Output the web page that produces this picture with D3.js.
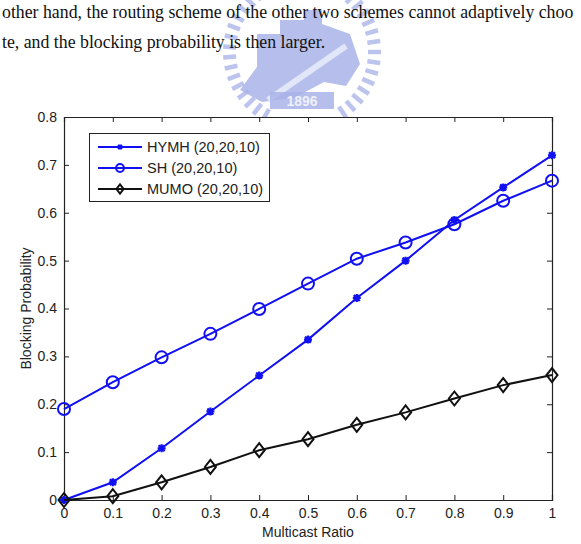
<!DOCTYPE html>
<html>
<head>
<meta charset="utf-8">
<script src="https://cdn.jsdelivr.net/npm/d3@7"></script>
<style>
  body { margin: 0; background: #fff; }
  svg { display: block; }
</style>
</head>
<body>
<div id="chart"></div>
<script>
// data
var ratios = [0, 0.1, 0.2, 0.3, 0.4, 0.5, 0.6, 0.7, 0.8, 0.9, 1];
var hymh = [0, 0.037, 0.108, 0.185, 0.260, 0.335, 0.422, 0.500, 0.585, 0.653, 0.720];
var sh   = [0.190, 0.246, 0.298, 0.347, 0.399, 0.452, 0.504, 0.538, 0.576, 0.625, 0.667];
var mumo = [0, 0.008, 0.037, 0.069, 0.104, 0.127, 0.157, 0.183, 0.212, 0.240, 0.261];
var seriesNames = ["HYMH (20,20,10)", "SH (20,20,10)", "MUMO (20,20,10)"];
var xTicks = [0, 0.1, 0.2, 0.3, 0.4, 0.5, 0.6, 0.7, 0.8, 0.9, 1];
var yTicks = [0, 0.1, 0.2, 0.3, 0.4, 0.5, 0.6, 0.7, 0.8];
var textLines = [
  "other hand, the routing scheme of the other two schemes cannot adaptively choo",
  "te, and the blocking probability is then larger."
];

var width = 581, height = 544;
var plot = {left: 64, right: 552, top: 117, bottom: 500};

var svg = d3.select("#chart").append("svg")
  .attr("width", width)
  .attr("height", height);

// faint watermark logo behind the page text
var wm = svg.append("g").attr("transform", "translate(302,52)");
var ringCol = "#bcc4ee";
d3.range(0, 360, 8).forEach(function(a) {
  if (a > 62 && a < 118) return; // gap at the bottom for the year
  var r = a * Math.PI / 180;
  wm.append("line")
    .attr("x1", Math.cos(r) * 66).attr("y1", Math.sin(r) * 66)
    .attr("x2", Math.cos(r) * 79).attr("y2", Math.sin(r) * 79)
    .attr("stroke", ringCol).attr("stroke-width", 4.5);
});
wm.append("path")
  .attr("d", "M-62,38 L-45,15 L-45,-18 L-22,-18 L-22,-32 L2,-32 L2,-42 L20,-42 L20,-28 L48,-18 L58,12 L44,34 L22,30 L-8,46 L-40,50 Z")
  .attr("fill", "#a9b3e8").attr("opacity", 0.85);
wm.append("path")
  .attr("d", "M-34,48 L44,-6")
  .attr("stroke", "#e2e6f9").attr("stroke-width", 6);
wm.append("rect")
  .attr("x", -32).attr("y", 40).attr("width", 64).attr("height", 17)
  .attr("fill", "#a9b3e8").attr("opacity", 0.85);
wm.append("text")
  .attr("x", 0).attr("y", 54)
  .attr("text-anchor", "middle")
  .style("font-family", "Liberation Sans, Arial, sans-serif")
  .style("font-size", "14px")
  .style("font-weight", "bold")
  .attr("fill", "#eef0fb")
  .text("1896");

// page text above the figure
svg.selectAll("text.body")
  .data(textLines)
  .enter()
  .append("text")
  .attr("class", "body")
  .attr("x", 2)
  .attr("y", function(d, i) { return 18 + i * 30; })
  .style("font-family", "Liberation Serif, Times New Roman, serif")
  .style("font-size", "17.8px")
  .attr("fill", "#111")
  .text(function(d) { return d; });

var x = d3.scaleLinear().domain([0, 1]).range([plot.left, plot.right]);
var y = d3.scaleLinear().domain([0, 0.8]).range([plot.bottom, plot.top]);

var fontFam = "Liberation Sans, Arial, Helvetica, sans-serif";

// white axes background
svg.append("rect")
  .attr("x", plot.left).attr("y", plot.top)
  .attr("width", plot.right - plot.left).attr("height", plot.bottom - plot.top)
  .attr("fill", "#fff");

// axes with inward ticks on all four sides
var axes = [
  {g: d3.axisBottom(x).tickValues(xTicks).tickSize(-5).tickPadding(8).tickFormat(d3.format("")), t: "translate(0," + plot.bottom + ")"},
  {g: d3.axisTop(x).tickValues(xTicks).tickSize(-5).tickFormat(""), t: "translate(0," + plot.top + ")"},
  {g: d3.axisLeft(y).tickValues(yTicks).tickSize(-5).tickPadding(7).tickFormat(d3.format("")), t: "translate(" + plot.left + ",0)"},
  {g: d3.axisRight(y).tickValues(yTicks).tickSize(-5).tickFormat(""), t: "translate(" + plot.right + ",0)"}
];
axes.forEach(function(a) {
  var g = svg.append("g").attr("transform", a.t).call(a.g);
  g.select(".domain").attr("stroke", "#222").attr("stroke-width", 1.2);
  g.selectAll(".tick line").attr("stroke", "#222");
  g.selectAll("text")
    .style("font-family", fontFam)
    .style("font-size", "14px")
    .attr("fill", "#222");
});

// axis titles
svg.append("text")
  .attr("x", (plot.left + plot.right) / 2)
  .attr("y", 537)
  .attr("text-anchor", "middle")
  .style("font-family", fontFam)
  .style("font-size", "14px")
  .attr("fill", "#222")
  .text("Multicast Ratio");

svg.append("text")
  .attr("transform", "translate(31," + ((plot.top + plot.bottom) / 2) + ") rotate(-90)")
  .attr("text-anchor", "middle")
  .style("font-family", fontFam)
  .style("font-size", "14px")
  .attr("fill", "#222")
  .text("Blocking Probability");

// series
var blue = "#1010f2", black = "#111";
var series = [
  {name: seriesNames[0], values: hymh, color: blue, marker: "star"},
  {name: seriesNames[1], values: sh, color: blue, marker: "circle"},
  {name: seriesNames[2], values: mumo, color: black, marker: "diamond"}
];

var line = d3.line()
  .x(function(d) { return x(d[0]); })
  .y(function(d) { return y(d[1]); });

function drawMarker(g, type, cx, cy, color, k) {
  k = k || 1;
  if (type == "circle") {
    g.append("circle")
      .attr("cx", cx).attr("cy", cy).attr("r", 6 * k)
      .attr("fill", "none").attr("stroke", color).attr("stroke-width", 2);
  } else if (type == "diamond") {
    g.append("path")
      .attr("d", "M" + cx + "," + (cy - 7 * k) + " L" + (cx + 5.5 * k) + "," + cy + " L" + cx + "," + (cy + 7 * k) + " L" + (cx - 5.5 * k) + "," + cy + " Z")
      .attr("fill", "none").attr("stroke", color).attr("stroke-width", 2);
  } else {
    // small thick asterisk
    var s = 4 * k, t = 3 * k;
    g.append("path")
      .attr("d", "M" + (cx - s) + "," + cy + " L" + (cx + s) + "," + cy +
                 " M" + cx + "," + (cy - s) + " L" + cx + "," + (cy + s) +
                 " M" + (cx - t) + "," + (cy - t) + " L" + (cx + t) + "," + (cy + t) +
                 " M" + (cx - t) + "," + (cy + t) + " L" + (cx + t) + "," + (cy - t))
      .attr("stroke", color).attr("stroke-width", 2.2).attr("fill", "none");
  }
}

series.forEach(function(s) {
  var pts = ratios.map(function(r, i) { return [r, s.values[i]]; });
  var g = svg.append("g");
  g.append("path")
    .datum(pts)
    .attr("d", line)
    .attr("fill", "none")
    .attr("stroke", s.color)
    .attr("stroke-width", 2);
  pts.forEach(function(p) {
    drawMarker(g, s.marker, x(p[0]), y(p[1]), s.color);
  });
});

// legend
var leg = svg.append("g");
leg.append("rect")
  .attr("x", 89.5).attr("y", 133.5)
  .attr("width", 180).attr("height", 68)
  .attr("fill", "#fff")
  .attr("stroke", "#222").attr("stroke-width", 1);
series.forEach(function(s, i) {
  var ly = 147 + i * 21;
  leg.append("line")
    .attr("x1", 98).attr("x2", 142)
    .attr("y1", ly).attr("y2", ly)
    .attr("stroke", s.color).attr("stroke-width", 2);
  drawMarker(leg, s.marker, 120, ly, s.color, 0.65);
  leg.append("text")
    .attr("x", 147).attr("y", ly + 5)
    .style("font-family", fontFam)
    .style("font-size", "14.5px")
    .attr("fill", "#222")
    .text(s.name);
});
</script>
</body>
</html>
